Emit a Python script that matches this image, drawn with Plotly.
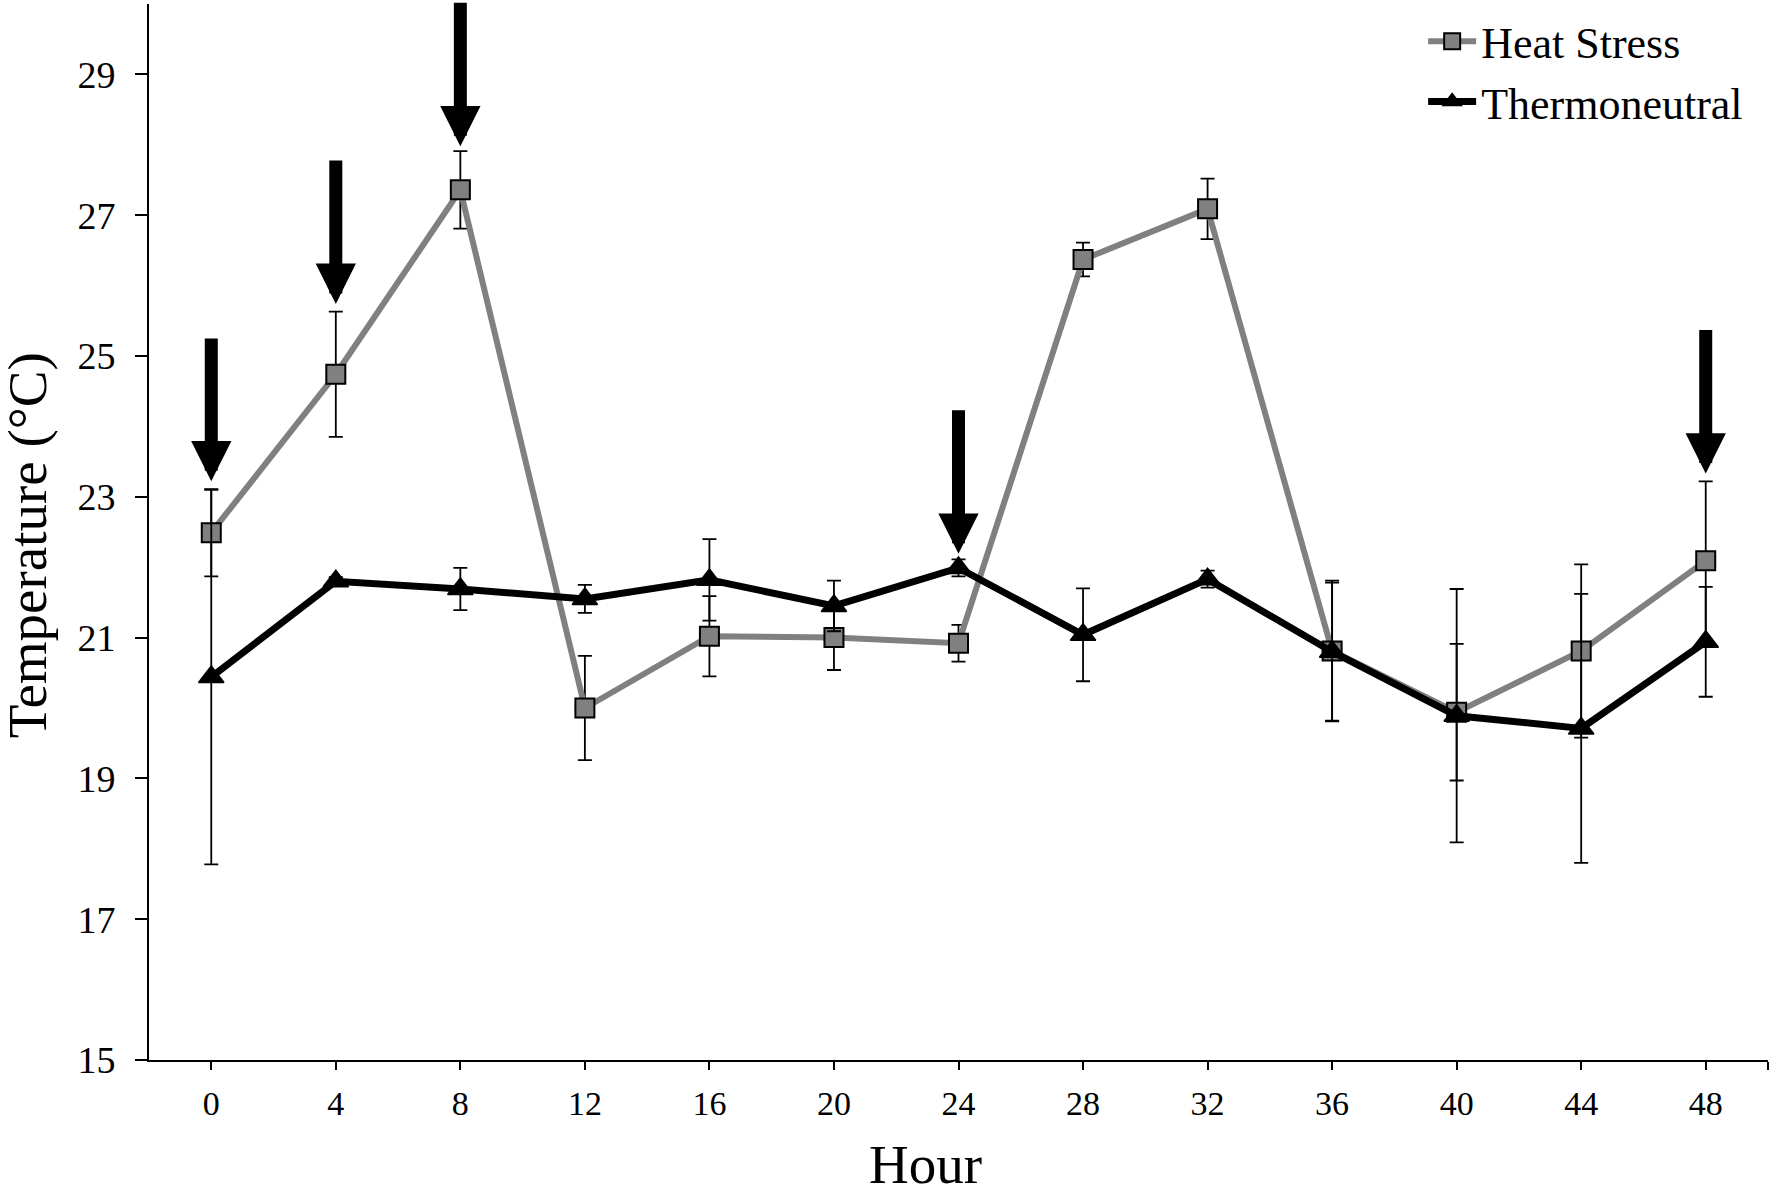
import plotly.graph_objects as go

# ---- data ----
hours = [0, 4, 8, 12, 16, 20, 24, 28, 32, 36, 40, 44, 48]
hour_labels = ["0", "4", "8", "12", "16", "20", "24", "28", "32", "36", "40", "44", "48"]

heat_stress = [22.49, 24.74, 27.36, 20.00, 21.02, 21.00, 20.92, 26.37, 27.09, 20.81, 19.94, 20.81, 22.09]
heat_stress_err = [0.62, 0.89, 0.55, 0.74, 0.57, 0.46, 0.26, 0.24, 0.43, 1.00, 0.97, 1.23, 1.13]

thermoneutral = [20.44, 21.80, 21.69, 21.55, 21.82, 21.45, 21.99, 21.04, 21.83, 20.80, 19.89, 19.71, 20.94]
thermoneutral_err = [2.66, 0.06, 0.30, 0.20, 0.58, 0.36, 0.12, 0.66, 0.12, 0.98, 1.80, 1.91, 0.78]

# downward arrows (hour, tip value, tail value)
arrow_hours = [0, 4, 8, 24, 48]
arrow_tips = [23.22, 25.74, 27.98, 22.19, 23.33]
arrow_tails = [25.27, 27.80, 30.04, 24.25, 25.39]

y_ticks = [15, 17, 19, 21, 23, 25, 27, 29]

FONT = "Liberation Serif, Times New Roman, serif"

fig = go.Figure()

fig.add_trace(go.Scatter(
    x=hours, y=heat_stress, name="Heat Stress", mode="lines+markers",
    line=dict(color="#808080", width=6),
    marker=dict(symbol="square", size=19, color="#808080",
                line=dict(color="black", width=2)),
    error_y=dict(type="data", array=heat_stress_err, visible=True,
                 color="black", thickness=1.8, width=7),
))

fig.add_trace(go.Scatter(
    x=hours, y=thermoneutral, name="Thermoneutral", mode="lines+markers",
    line=dict(color="black", width=7),
    marker=dict(symbol="triangle-up", size=22, color="black",
                line=dict(color="black", width=1.5)),
    error_y=dict(type="data", array=thermoneutral_err, visible=True,
                 color="black", thickness=1.8, width=7),
))

for h, tip, tail in zip(arrow_hours, arrow_tips, arrow_tails):
    fig.add_annotation(
        x=h, y=tip, ax=h, ay=tail, xref="x", yref="y", axref="x", ayref="y",
        text="", showarrow=True, arrowhead=2, arrowsize=0.62,
        arrowwidth=13, arrowcolor="black", standoff=0,
    )

# axis titles
fig.add_annotation(
    text="Hour", xref="paper", yref="paper", x=0.4794, y=-0.099,
    xanchor="center", yanchor="middle", showarrow=False,
    font=dict(family=FONT, size=55, color="black"),
)
fig.add_annotation(
    text="Temperature (°C)", xref="paper", yref="paper", x=-0.0745, y=0.4877,
    xanchor="center", yanchor="middle", showarrow=False, textangle=-90,
    font=dict(family=FONT, size=55, color="black"),
)

fig.update_layout(
    width=1772, height=1193,
    margin=dict(l=149, r=4, t=4, b=133, autoexpand=False),
    paper_bgcolor="white", plot_bgcolor="white",
    font=dict(family=FONT, color="black"),
    showlegend=True,
    legend=dict(
        x=0.787, y=0.998, xanchor="left", yanchor="top",
        font=dict(family=FONT, size=44, color="black"),
        bgcolor="rgba(0,0,0,0)", borderwidth=0,
        itemwidth=48, tracegroupgap=0,
    ),
)

fig.update_xaxes(
    range=[-2, 50],
    tickmode="array", tickvals=hours + [50], ticktext=hour_labels + [""],
    ticks="outside", ticklen=8, tickwidth=2, tickcolor="black",
    showline=True, linecolor="black", linewidth=2,
    showgrid=False, zeroline=False,
    tickfont=dict(family=FONT, size=34, color="black"),
    ticklabelstandoff=4,
    automargin=False,
)

fig.update_yaxes(
    range=[15, 30],
    tickmode="array", tickvals=y_ticks, ticktext=[str(v) for v in y_ticks],
    ticks="outside", ticklen=12, tickwidth=2, tickcolor="black",
    showline=True, linecolor="black", linewidth=2,
    showgrid=False, zeroline=False,
    tickfont=dict(family=FONT, size=38, color="black"),
    ticklabelstandoff=12,
    automargin=False,
)

fig.write_html("out.html", config={"displayModeBar": False},
               post_script="document.body.style.margin='0';")
